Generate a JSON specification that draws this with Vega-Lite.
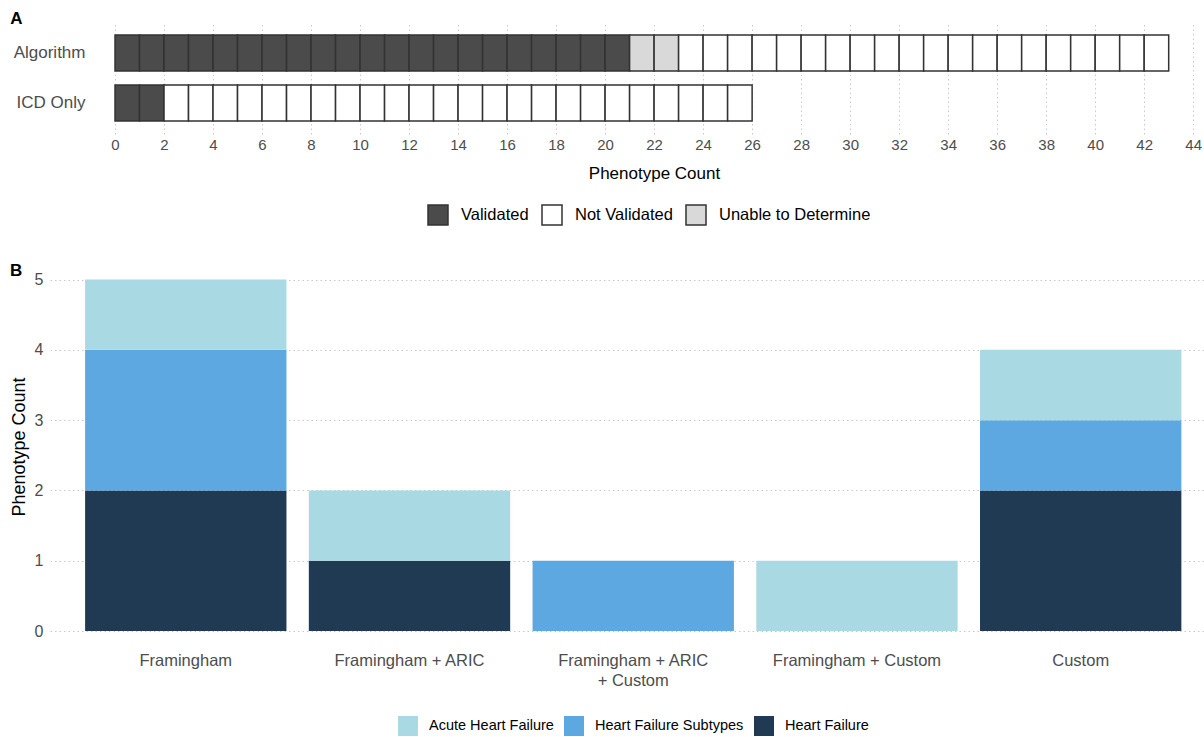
{
  "$schema": "https://vega.github.io/schema/vega-lite/v6.json",
  "padding": {"left": 10, "top": 10, "right": 0, "bottom": 0},
  "background": "#ffffff",
  "config": {
    "font": "Liberation Sans",
    "view": {"stroke": null},
    "title": {"fontSize": 17, "fontWeight": "bold", "color": "#000000", "anchor": "start", "frame": "bounds"},
    "axis": {"ticks": false, "domain": false, "labelColor": "#4d4d4d", "titleColor": "#000000", "titleFontWeight": "normal", "gridColor": "#c8c8c8", "gridDash": [1.5, 3], "gridWidth": 1}
  },
  "datasets": {
    "cells": [
      {"method": "Algorithm", "id": 1, "status": "Validated"},
      {"method": "Algorithm", "id": 2, "status": "Validated"},
      {"method": "Algorithm", "id": 3, "status": "Validated"},
      {"method": "Algorithm", "id": 4, "status": "Validated"},
      {"method": "Algorithm", "id": 5, "status": "Validated"},
      {"method": "Algorithm", "id": 6, "status": "Validated"},
      {"method": "Algorithm", "id": 7, "status": "Validated"},
      {"method": "Algorithm", "id": 8, "status": "Validated"},
      {"method": "Algorithm", "id": 9, "status": "Validated"},
      {"method": "Algorithm", "id": 10, "status": "Validated"},
      {"method": "Algorithm", "id": 11, "status": "Validated"},
      {"method": "Algorithm", "id": 12, "status": "Validated"},
      {"method": "Algorithm", "id": 13, "status": "Validated"},
      {"method": "Algorithm", "id": 14, "status": "Validated"},
      {"method": "Algorithm", "id": 15, "status": "Validated"},
      {"method": "Algorithm", "id": 16, "status": "Validated"},
      {"method": "Algorithm", "id": 17, "status": "Validated"},
      {"method": "Algorithm", "id": 18, "status": "Validated"},
      {"method": "Algorithm", "id": 19, "status": "Validated"},
      {"method": "Algorithm", "id": 20, "status": "Validated"},
      {"method": "Algorithm", "id": 21, "status": "Validated"},
      {"method": "Algorithm", "id": 22, "status": "Unable to Determine"},
      {"method": "Algorithm", "id": 23, "status": "Unable to Determine"},
      {"method": "Algorithm", "id": 24, "status": "Not Validated"},
      {"method": "Algorithm", "id": 25, "status": "Not Validated"},
      {"method": "Algorithm", "id": 26, "status": "Not Validated"},
      {"method": "Algorithm", "id": 27, "status": "Not Validated"},
      {"method": "Algorithm", "id": 28, "status": "Not Validated"},
      {"method": "Algorithm", "id": 29, "status": "Not Validated"},
      {"method": "Algorithm", "id": 30, "status": "Not Validated"},
      {"method": "Algorithm", "id": 31, "status": "Not Validated"},
      {"method": "Algorithm", "id": 32, "status": "Not Validated"},
      {"method": "Algorithm", "id": 33, "status": "Not Validated"},
      {"method": "Algorithm", "id": 34, "status": "Not Validated"},
      {"method": "Algorithm", "id": 35, "status": "Not Validated"},
      {"method": "Algorithm", "id": 36, "status": "Not Validated"},
      {"method": "Algorithm", "id": 37, "status": "Not Validated"},
      {"method": "Algorithm", "id": 38, "status": "Not Validated"},
      {"method": "Algorithm", "id": 39, "status": "Not Validated"},
      {"method": "Algorithm", "id": 40, "status": "Not Validated"},
      {"method": "Algorithm", "id": 41, "status": "Not Validated"},
      {"method": "Algorithm", "id": 42, "status": "Not Validated"},
      {"method": "Algorithm", "id": 43, "status": "Not Validated"},
      {"method": "ICD Only", "id": 1, "status": "Validated"},
      {"method": "ICD Only", "id": 2, "status": "Validated"},
      {"method": "ICD Only", "id": 3, "status": "Not Validated"},
      {"method": "ICD Only", "id": 4, "status": "Not Validated"},
      {"method": "ICD Only", "id": 5, "status": "Not Validated"},
      {"method": "ICD Only", "id": 6, "status": "Not Validated"},
      {"method": "ICD Only", "id": 7, "status": "Not Validated"},
      {"method": "ICD Only", "id": 8, "status": "Not Validated"},
      {"method": "ICD Only", "id": 9, "status": "Not Validated"},
      {"method": "ICD Only", "id": 10, "status": "Not Validated"},
      {"method": "ICD Only", "id": 11, "status": "Not Validated"},
      {"method": "ICD Only", "id": 12, "status": "Not Validated"},
      {"method": "ICD Only", "id": 13, "status": "Not Validated"},
      {"method": "ICD Only", "id": 14, "status": "Not Validated"},
      {"method": "ICD Only", "id": 15, "status": "Not Validated"},
      {"method": "ICD Only", "id": 16, "status": "Not Validated"},
      {"method": "ICD Only", "id": 17, "status": "Not Validated"},
      {"method": "ICD Only", "id": 18, "status": "Not Validated"},
      {"method": "ICD Only", "id": 19, "status": "Not Validated"},
      {"method": "ICD Only", "id": 20, "status": "Not Validated"},
      {"method": "ICD Only", "id": 21, "status": "Not Validated"},
      {"method": "ICD Only", "id": 22, "status": "Not Validated"},
      {"method": "ICD Only", "id": 23, "status": "Not Validated"},
      {"method": "ICD Only", "id": 24, "status": "Not Validated"},
      {"method": "ICD Only", "id": 25, "status": "Not Validated"},
      {"method": "ICD Only", "id": 26, "status": "Not Validated"}
    ],
    "types": [
      {"method": "Framingham", "type": "Heart Failure", "count": 2},
      {"method": "Framingham", "type": "Heart Failure Subtypes", "count": 2},
      {"method": "Framingham", "type": "Acute Heart Failure", "count": 1},
      {"method": "Framingham + ARIC", "type": "Heart Failure", "count": 1},
      {"method": "Framingham + ARIC", "type": "Acute Heart Failure", "count": 1},
      {"method": "Framingham + ARIC + Custom", "type": "Heart Failure Subtypes", "count": 1},
      {"method": "Framingham + Custom", "type": "Acute Heart Failure", "count": 1},
      {"method": "Custom", "type": "Heart Failure", "count": 2},
      {"method": "Custom", "type": "Heart Failure Subtypes", "count": 1},
      {"method": "Custom", "type": "Acute Heart Failure", "count": 1}
    ]
  },
  "columns": 1,
  "align": "none",
  "spacing": 34,
  "resolve": {"scale": {"color": "independent"}, "legend": {"color": "independent"}},
  "concat": [
    {
      "title": {"text": "A", "offset": -6, "dx": -3},
      "width": 1153,
      "height": 112,
      "data": {"name": "cells"},
      "mark": {"type": "bar", "stroke": "#333333", "strokeWidth": 1.5},
      "encoding": {
        "y": {
          "field": "method", "type": "nominal", "sort": ["Algorithm", "ICD Only"],
          "scale": {"paddingInner": 0.28, "paddingOuter": 0.26},
          "axis": {"title": null, "labelFontSize": 17, "labelPadding": -35, "grid": false}
        },
        "x": {
          "aggregate": "count", "type": "quantitative", "stack": "zero",
          "scale": {"domain": [-2.653, 44.4], "nice": false, "zero": false},
          "axis": {
            "title": "Phenotype Count",
            "values": [0, 2, 4, 6, 8, 10, 12, 14, 16, 18, 20, 22, 24, 26, 28, 30, 32, 34, 36, 38, 40, 42, 44],
            "grid": true, "labelFontSize": 15, "labelPadding": 3,
            "titleFontSize": 17, "titlePadding": 13, "titleX": 604
          }
        },
        "color": {
          "field": "status", "type": "nominal",
          "scale": {
            "domain": ["Validated", "Not Validated", "Unable to Determine"],
            "range": ["#4b4b4b", "#ffffff", "#d9d9d9"]
          },
          "legend": {
            "title": null, "orient": "none", "direction": "horizontal",
            "legendX": 377, "legendY": 182,
            "symbolType": "square", "symbolSize": 400, "symbolOpacity": 1,
            "symbolStrokeColor": "#333333", "symbolStrokeWidth": 1.5,
            "labelFontSize": 16.5, "labelColor": "#000000", "labelOffset": 12,
            "columnPadding": 10
          }
        },
        "detail": {"field": "id"},
        "order": {"field": "id", "type": "quantitative"}
      }
    },
    {
      "title": {"text": "B", "offset": -18},
      "width": 1154,
      "height": 369,
      "data": {"name": "types"},
      "transform": [
        {"calculate": "indexof(['Heart Failure', 'Heart Failure Subtypes', 'Acute Heart Failure'], datum.type)", "as": "layer"}
      ],
      "mark": {"type": "bar"},
      "encoding": {
        "x": {
          "field": "method", "type": "nominal",
          "sort": ["Framingham", "Framingham + ARIC", "Framingham + ARIC + Custom", "Framingham + Custom", "Custom"],
          "scale": {"paddingInner": 0.1, "paddingOuter": 0.129, "align": 0.608},
          "axis": {
            "title": null, "labelAngle": 0, "labelFontSize": 16.5, "labelPadding": 21,
            "labelLimit": 400, "labelLineHeight": 20,
            "labelExpr": "datum.value == 'Framingham + ARIC + Custom' ? ['Framingham + ARIC', '+ Custom'] : datum.value"
          }
        },
        "y": {
          "field": "count", "type": "quantitative", "stack": "zero",
          "scale": {"domain": [0, 5.25], "nice": false},
          "axis": {
            "title": "Phenotype Count", "values": [0, 1, 2, 3, 4, 5], "grid": true,
            "labelFontSize": 16, "labelPadding": 7, "titleFontSize": 18, "titlePadding": 6
          }
        },
        "color": {
          "field": "type", "type": "nominal",
          "scale": {
            "domain": ["Acute Heart Failure", "Heart Failure Subtypes", "Heart Failure"],
            "range": ["#a9d9e3", "#5ea8e2", "#213a53"]
          },
          "legend": {
            "title": null, "orient": "none", "direction": "horizontal",
            "legendX": 348, "legendY": 454,
            "symbolType": "square", "symbolSize": 400, "symbolOpacity": 1, "symbolStrokeWidth": 0,
            "labelFontSize": 14.5, "labelColor": "#000000", "labelOffset": 11,
            "columnPadding": 10
          }
        },
        "order": {"field": "layer", "type": "quantitative"}
      }
    }
  ]
}
